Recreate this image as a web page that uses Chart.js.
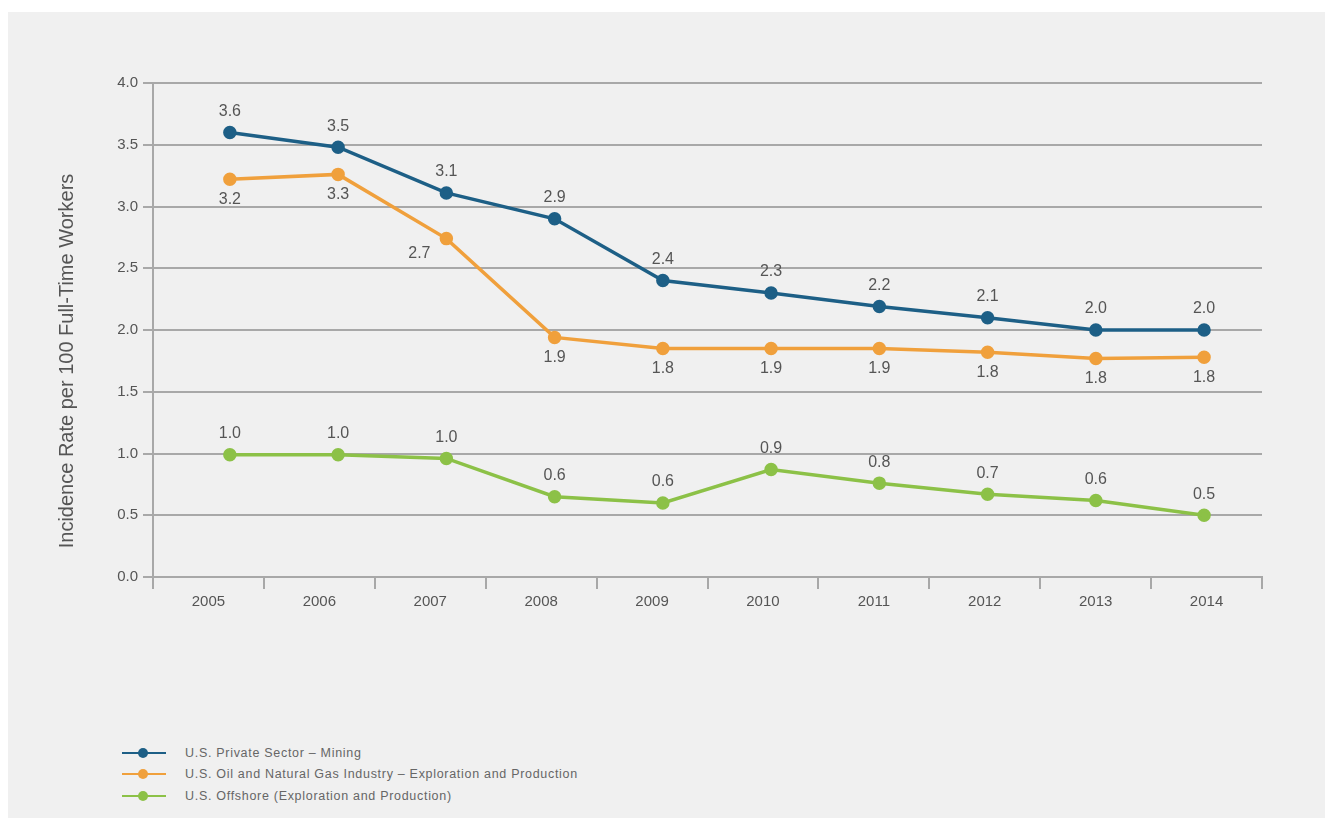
<!DOCTYPE html>
<html>
<head>
<meta charset="utf-8">
<script src="https://cdn.jsdelivr.net/npm/chart.js@4/dist/chart.umd.min.js"></script>
<style>
  body { margin: 0; background: #fff; font-family: "Liberation Sans", Arial, sans-serif; }
  #panel { position: absolute; left: 8px; top: 12px; width: 1317px; height: 806px; background: #f0f0f0; }
  #wrap { position: absolute; left: 0; top: 0; width: 1317px; height: 615px; }
  #legend { position: absolute; left: 114px; top: 730px; font-size: 12.5px; letter-spacing: 0.7px; color: #666; }
  .item { display: flex; align-items: center; height: 21.5px; }
  .sym { position: relative; width: 44px; height: 12px; margin-right: 19px; }
  .sym .ln { position: absolute; left: 0; right: 0; top: 5px; height: 2px; }
  .sym .dot { position: absolute; left: 16px; top: 1px; width: 10px; height: 10px; border-radius: 50%; }
</style>
</head>
<body>
<div id="panel">
  <div id="wrap"><canvas id="incidenceChart"></canvas></div>
  <div id="legend"></div>
</div>
<script>
const years = ['2005', '2006', '2007', '2008', '2009', '2010', '2011', '2012', '2013', '2014'];
const yTicks = [0, 0.5, 1, 1.5, 2, 2.5, 3, 3.5, 4];
const yTitle = 'Incidence Rate per 100 Full-Time Workers';

const seriesNames = [
  'U.S. Private Sector \u2013 Mining',
  'U.S. Oil and Natural Gas Industry \u2013 Exploration and Production',
  'U.S. Offshore (Exploration and Production)'
];
const mining = [3.6, 3.48, 3.11, 2.9, 2.4, 2.3, 2.19, 2.1, 2.0, 2.0];
const oilGas = [3.22, 3.26, 2.74, 1.94, 1.85, 1.85, 1.85, 1.82, 1.77, 1.78];
const offshore = [0.99, 0.99, 0.96, 0.65, 0.6, 0.87, 0.76, 0.67, 0.62, 0.5];

// printed labels (as in the source graphic)
const miningLabels = ['3.6', '3.5', '3.1', '2.9', '2.4', '2.3', '2.2', '2.1', '2.0', '2.0'];
const oilGasLabels = ['3.2', '3.3', '2.7', '1.9', '1.8', '1.9', '1.9', '1.8', '1.8', '1.8'];
const offshoreLabels = ['1.0', '1.0', '1.0', '0.6', '0.6', '0.9', '0.8', '0.7', '0.6', '0.5'];

const colors = ['#1d5f86', '#f0a03c', '#8cc147'];

var ctx = document.getElementById('incidenceChart').getContext('2d');

const valueLabels = {
    id: 'valueLabels',
    afterDatasetsDraw(chart) {
        const c = chart.ctx;
        c.save();
        c.font = '16px "Liberation Sans", Arial, sans-serif';
        c.fillStyle = '#555';
        c.textAlign = 'center';
        c.textBaseline = 'middle';
        chart.data.datasets.forEach((ds, i) => {
            chart.getDatasetMeta(i).data.forEach((pt, j) => {
                let dx = 0, dy = ds.labelBelow ? 20 : -21;
                if (i === 1 && j === 2) { dx = -27; dy = 15; }
                c.fillText(ds.valueText[j], pt.x + dx, pt.y + dy);
            });
        });
        // y axis title, sits a bit below the plot centre like the original
        c.translate(59, 349);
        c.rotate(-Math.PI / 2);
        c.font = '20px "Liberation Sans", Arial, sans-serif';
        c.fillText(yTitle, 0, 0);
        c.restore();
    }
};

const data = {
    labels: years,
    datasets: [{
        label: seriesNames[0],
        data: mining,
        valueText: miningLabels,
        borderColor: colors[0],
        backgroundColor: colors[0],
    }, {
        label: seriesNames[1],
        data: oilGas,
        valueText: oilGasLabels,
        labelBelow: true,
        borderColor: colors[1],
        backgroundColor: colors[1],
    }, {
        label: seriesNames[2],
        data: offshore,
        valueText: offshoreLabels,
        borderColor: colors[2],
        backgroundColor: colors[2],
    }].map(d => Object.assign(d, {
        xAxisID: 'xd',
        borderWidth: 3.5,
        pointRadius: 5,
        tension: 0,
    }))
};

const incidenceChart = new Chart(ctx, {
    type: 'line',
    data: data,
    options: {
        responsive: true,
        maintainAspectRatio: false,
        animation: false,
        layout: { padding: { left: 46, top: 71, right: 63, bottom: 0 } },
        plugins: {
            legend: { display: false },
            tooltip: { enabled: false }
        },
        scales: {
            x: {
                type: 'category',
                offset: true,
                grid: { offset: true, drawOnChartArea: false, color: '#a8a8a8', lineWidth: 2, tickLength: 12 },
                border: { color: '#a8a8a8', width: 2 },
                ticks: { color: '#555', font: { size: 15, family: '"Liberation Sans", Arial' }, padding: 4 },
                afterFit: (s) => { s.height = 50; }
            },
            xd: {
                type: 'linear',
                display: false,
                min: 2004.29,
                max: 2014.535
            },
            y: {
                min: 0,
                max: 4,
                afterBuildTicks: (s) => { s.ticks = yTicks.map(v => ({ value: v })); },
                grid: { color: '#a8a8a8', lineWidth: 2, tickLength: 10 },
                border: { color: '#a8a8a8', width: 2 },
                ticks: {
                    color: '#555',
                    font: { size: 15, family: '"Liberation Sans", Arial' },
                    padding: 5,
                    callback: (v) => v.toFixed(1)
                },
                afterFit: (s) => { s.width = 99; }
            }
        }
    },
    plugins: [valueLabels]
});

// legend
const legendBox = document.getElementById('legend');
seriesNames.forEach((name, i) => {
    legendBox.innerHTML += '<div class="item"><div class="sym"><div class="ln" style="background:' + colors[i] +
        '"></div><div class="dot" style="background:' + colors[i] + '"></div></div><span>' + name + '</span></div>';
});
</script>
</body>
</html>
